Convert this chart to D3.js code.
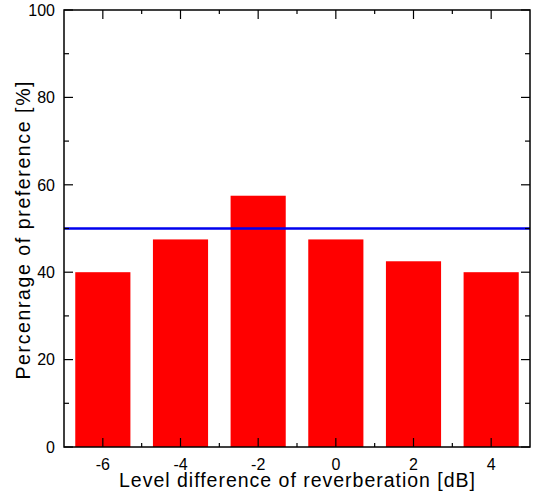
<!DOCTYPE html>
<html lang="en">
<meta charset="utf-8"/>
<head>
<style>
  body { margin: 0; background: #fff; }
  svg text { font-family: "Liberation Sans", Arial, sans-serif; }
</style>
</head>
<body>
<svg id="chart" width="537" height="491"></svg>

<script src="https://d3js.org/d3.v7.min.js"></script>
<script>
// data
let levels = ["-6", "-4", "-2", "0", "2", "4"]
let preference = [40, 47.5, 57.5, 47.5, 42.5, 40]
let yTicks = [0, 20, 40, 60, 80, 100]
let reference = 50

let width = 537, height = 491
let margin = {top: 10, right: 7, bottom: 44, left: 64}
let plotW = width - margin.left - margin.right
let plotH = height - margin.top - margin.bottom

let svg = d3.select("#chart")
let g = svg.append("g").attr("transform", `translate(${margin.left},${margin.top})`)

let x = d3.scaleBand()
    .domain(levels)
    .range([0, plotW])
    .paddingInner(0.29)
    .paddingOuter(0.145)

let y = d3.scaleLinear().domain([0, 100]).range([plotH, 0])

// bars
g.selectAll("rect.bar")
  .data(levels)
  .enter()
  .append("rect")
    .attr("class", "bar")
    .attr("x", d => x(d))
    .attr("y", (d, i) => y(preference[i]))
    .attr("width", x.bandwidth())
    .attr("height", (d, i) => y(0) - y(preference[i]))
    .attr("fill", "#ff0000")

// 50% line
g.append("line")
  .attr("x1", 0).attr("x2", plotW)
  .attr("y1", y(reference)).attr("y2", y(reference))
  .attr("stroke", "#0000ee")
  .attr("stroke-width", 2.6)

// ticks, all pointing inward
let step = x.step()
let centers = levels.map(d => x(d) + x.bandwidth() / 2)
let minorX = levels.slice(1).map(d => x(d) + x.bandwidth() / 2 - step / 2)
let minorY = d3.range(10, 100, 20)

let tickG = g.append("g").attr("stroke", "#000").attr("stroke-width", 1.2)

centers.forEach(cx => {
  tickG.append("line").attr("x1", cx).attr("x2", cx).attr("y1", plotH).attr("y2", plotH - 9)
  tickG.append("line").attr("x1", cx).attr("x2", cx).attr("y1", 0).attr("y2", 9)
})
minorX.forEach(cx => {
  tickG.append("line").attr("x1", cx).attr("x2", cx).attr("y1", plotH).attr("y2", plotH - 4)
  tickG.append("line").attr("x1", cx).attr("x2", cx).attr("y1", 0).attr("y2", 4)
})
yTicks.forEach(v => {
  tickG.append("line").attr("x1", 0).attr("x2", 9).attr("y1", y(v)).attr("y2", y(v))
  tickG.append("line").attr("x1", plotW).attr("x2", plotW - 9).attr("y1", y(v)).attr("y2", y(v))
})
minorY.forEach(v => {
  tickG.append("line").attr("x1", 0).attr("x2", 5).attr("y1", y(v)).attr("y2", y(v))
  tickG.append("line").attr("x1", plotW).attr("x2", plotW - 5).attr("y1", y(v)).attr("y2", y(v))
})

// frame
g.append("rect")
  .attr("width", plotW).attr("height", plotH)
  .attr("fill", "none").attr("stroke", "#000").attr("stroke-width", 1.5)

// tick labels
g.selectAll("text.ylab")
  .data(yTicks)
  .enter()
  .append("text")
    .attr("x", -9)
    .attr("y", d => y(d))
    .attr("dy", "0.36em")
    .attr("text-anchor", "end")
    .attr("font-size", 16)
    .text(d => d)

g.selectAll("text.xlab")
  .data(levels)
  .enter()
  .append("text")
    .attr("x", d => x(d) + x.bandwidth() / 2)
    .attr("y", plotH + 23)
    .attr("text-anchor", "middle")
    .attr("font-size", 16)
    .text(d => d)

// axis titles (the original font is wider, so stretch the spacing)
svg.append("text")
  .attr("x", margin.left + plotW / 2)
  .attr("y", 487)
  .attr("text-anchor", "middle")
  .attr("font-size", 19.5)
  .attr("textLength", 356)
  .attr("lengthAdjust", "spacing")
  .text("Level difference of reverberation [dB]")

svg.append("text")
  .attr("transform", `translate(30,${margin.top + plotH / 2 + 2}) rotate(-90)`)
  .attr("text-anchor", "middle")
  .attr("font-size", 19.5)
  .attr("textLength", 298)
  .attr("lengthAdjust", "spacing")
  .text("Percenrage of preference [%]")
</script>
</body>
</html>
